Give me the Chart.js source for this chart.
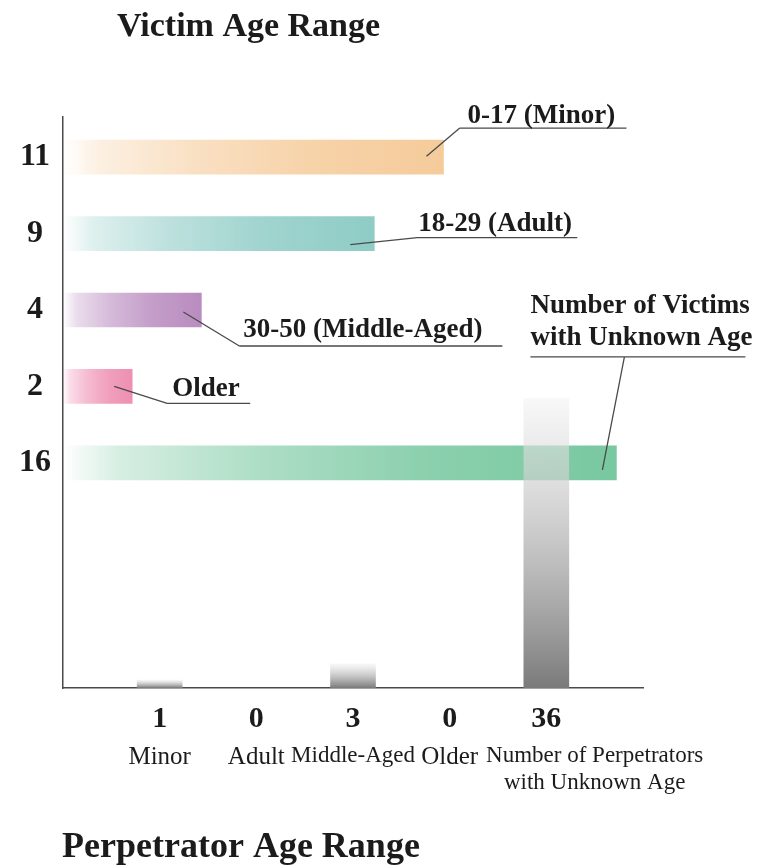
<!DOCTYPE html>
<html>
<head>
<meta charset="utf-8">
<title>Victim / Perpetrator Age Range</title>
<script src="https://cdn.jsdelivr.net/npm/chart.js@4.4.1/dist/chart.umd.min.js"></script>
<style>
    html, body { margin: 0; padding: 0; background: #fff; }
    #wrap { position: relative; width: 759px; height: 867px; }
    #wrap canvas { position: absolute; left: 0; top: 0; }
</style>
</head>
<body>
<div id="wrap">
    <canvas id="victimChart" width="759" height="867"></canvas>
    <canvas id="perpChart" width="759" height="867"></canvas>
</div>
<script>
/* Data */
const victimGroups = ['0-17 (Minor)', '18-29 (Adult)', '30-50 (Middle-Aged)', 'Older', ['Number of Victims', 'with Unknown Age']];
const victimCounts = [11, 9, 4, 2, 16];

const perpGroups = ['Minor', 'Adult', 'Middle-Aged', 'Older', ['Number of Perpetrators', 'with Unknown Age']];
const perpCounts = [1, 0, 3, 0, 36];

/* Styles */
const victimColors = ['#F5CB9A', '#8FCCC6', '#B98CBF', '#EE8FB2', '#78C8A0'];
const serif = "'Liberation Serif', 'DejaVu Serif', serif";
const ink = '#1b1b1b';
const lineColor = '#4a4a4a';

// where each callout sits, relative to the end of its bar
const calloutLayout = [
    { start: [-17, -1], elbow: [16, -29], line: [0, 167], text: [8, -5] },
    { start: [-24, 11], elbow: [43, 4], line: [0, 160], text: [1, -7] },
    { start: [-18, 2], elbow: [38, 36], line: [0, 263], text: [4, -9] },
    { start: [-18, 0], elbow: [35, 17], line: [0, 83], text: [5, -7] },
    { start: [-14, 7], elbow: [8, -106], line: [-94, 121], text: [-94, -44] }
];

// the names axis runs on half steps, so the long last name can sit right of its bar
const nameSlots = [2, 4, 6, 8, 11];

function hexToRgb(hex) {
    const n = parseInt(hex.slice(1), 16);
    return [(n >> 16) & 255, (n >> 8) & 255, n & 255];
}

// white -> colour, from the axis to the end of the bar
function victimGradient(context) {
    const chart = context.chart;
    const color = victimColors[context.dataIndex];
    if (!chart.chartArea) return color;
    const [r, g, b] = hexToRgb(color);
    const x0 = chart.scales.x.getPixelForValue(0);
    const x1 = chart.scales.x.getPixelForValue(victimCounts[context.dataIndex]);
    const grad = chart.ctx.createLinearGradient(x0, 0, x1, 0);
    grad.addColorStop(0, `rgba(${r},${g},${b},0)`);
    grad.addColorStop(0.1, `rgba(${r},${g},${b},0.3)`);
    grad.addColorStop(0.35, `rgba(${r},${g},${b},0.6)`);
    grad.addColorStop(0.65, `rgba(${r},${g},${b},0.85)`);
    grad.addColorStop(1, `rgba(${r},${g},${b},1)`);
    return grad;
}

// light at the top, dark grey at the base
function perpGradient(context) {
    const chart = context.chart;
    if (!chart.chartArea || context.raw == null) return '#999';
    const y0 = chart.scales.y.getPixelForValue(0);
    const y1 = chart.scales.y.getPixelForValue(context.raw);
    const grad = chart.ctx.createLinearGradient(0, y1, 0, y0);
    grad.addColorStop(0, 'rgba(242,242,242,0.55)');
    grad.addColorStop(1, 'rgba(122,122,122,1)');
    return grad;
}

/* Callouts + title, victim chart */
const victimCallouts = {
    id: 'victimCallouts',
    afterDatasetsDraw(chart) {
        const ctx = chart.ctx;
        const bars = chart.getDatasetMeta(0).data;
        ctx.save();
        ctx.strokeStyle = lineColor;
        ctx.lineWidth = 1.3;
        ctx.fillStyle = ink;
        ctx.font = `bold 27px ${serif}`;
        ctx.textBaseline = 'alphabetic';
        ctx.textAlign = 'left';
        bars.forEach((bar, i) => {
            const c = calloutLayout[i];
            const ex = bar.x + c.elbow[0];
            const ey = bar.y + c.elbow[1];
            ctx.beginPath();
            ctx.moveTo(bar.x + c.start[0], bar.y + c.start[1]);
            ctx.lineTo(ex, ey);
            ctx.moveTo(ex + c.line[0], ey);
            ctx.lineTo(ex + c.line[1], ey);
            ctx.stroke();
            [].concat(victimGroups[i]).forEach((t, k) => {
                ctx.fillText(t, ex + c.text[0], ey + c.text[1] + k * 32);
            });
        });
        ctx.font = `bold 34px ${serif}`;
        ctx.fillText('Victim Age Range', 117, 36);
        ctx.restore();
    }
};

const perpTitle = {
    id: 'perpTitle',
    afterDraw(chart) {
        const ctx = chart.ctx;
        ctx.save();
        ctx.fillStyle = ink;
        ctx.font = `bold 36px ${serif}`;
        ctx.textAlign = 'left';
        ctx.textBaseline = 'alphabetic';
        ctx.fillText('Perpetrator Age Range', 62, 857);
        ctx.restore();
    }
};

/* Victims: horizontal bars */
new Chart(document.getElementById('victimChart'), {
    type: 'bar',
    data: {
        labels: victimCounts.map(String),
        datasets: [{ data: victimCounts, backgroundColor: victimGradient, barThickness: 34 }]
    },
    options: {
        indexAxis: 'y',
        responsive: false,
        animation: false,
        layout: { padding: { top: 119, bottom: 366, right: 108, left: 0 } },
        plugins: { legend: { display: false }, tooltip: { enabled: false } },
        scales: {
            x: { type: 'linear', display: false, min: 0, max: 17 },
            y: {
                type: 'category',
                grid: { display: false, drawTicks: false },
                border: { display: false },
                ticks: { color: ink, padding: 12, crossAlign: 'center', font: { family: serif, size: 32, weight: 'bold' } },
                afterFit: scale => { scale.width = 63; }
            }
        }
    },
    plugins: [victimCallouts]
});

/* Perpetrators: vertical bars, with an empty slot at each end */
const padded = arr => ['', ...arr, ''];
const nameLabels = Array(2 * (perpGroups.length + 1) + 1).fill('');
nameSlots.forEach((slot, i) => { nameLabels[slot] = perpGroups[i]; });

new Chart(document.getElementById('perpChart'), {
    type: 'bar',
    data: {
        labels: padded(perpGroups),
        datasets: [{ data: [null, ...perpCounts, null], backgroundColor: perpGradient, barThickness: 45 }]
    },
    options: {
        responsive: false,
        animation: false,
        layout: { padding: { top: 117, bottom: 52, right: 116, left: 0 } },
        plugins: { legend: { display: false }, tooltip: { enabled: false } },
        scales: {
            x: {
                type: 'category',
                labels: padded(perpCounts.map(String)),
                offset: false,
                weight: 0,
                grid: { display: false, drawTicks: false },
                border: { display: true, color: lineColor, width: 1.5 },
                ticks: { autoSkip: false, maxRotation: 0, color: ink, padding: 13, font: { family: serif, size: 30, weight: 'bold' } },
                afterFit: scale => { scale.height = 52; }
            },
            x2: {
                type: 'category',
                position: 'bottom',
                labels: nameLabels,
                offset: false,
                weight: 1,
                grid: { display: false, drawTicks: false },
                border: { display: false },
                ticks: {
                    autoSkip: false,
                    maxRotation: 0,
                    color: ink,
                    padding: 2,
                    font: c => ({ family: serif, size: String(c.tick && c.tick.label).length > 6 ? 23 : 25, lineHeight: 1.2 })
                },
                afterFit: scale => { scale.height = 75; }
            },
            y: {
                type: 'linear',
                min: 0,
                max: 71,
                grid: { display: false, drawTicks: false },
                border: { display: true, color: lineColor, width: 1.5 },
                ticks: { display: false },
                afterFit: scale => { scale.width = 63; }
            }
        }
    },
    plugins: [perpTitle]
});
</script>
</body>
</html>
